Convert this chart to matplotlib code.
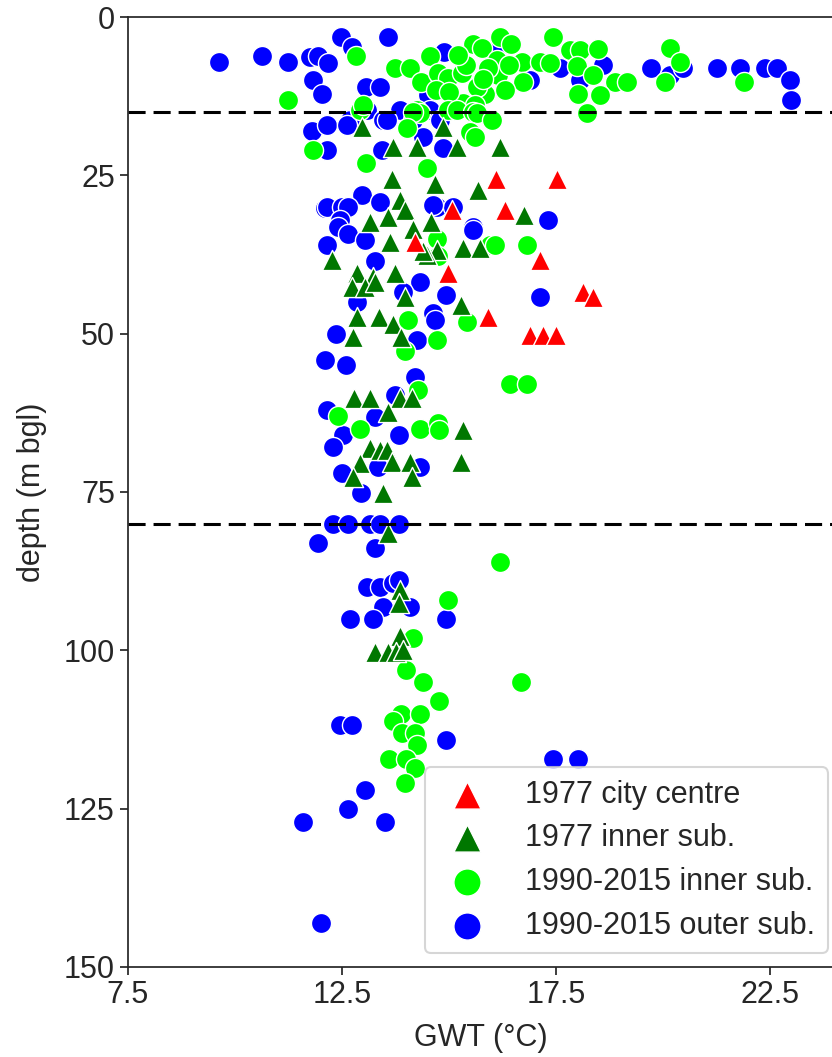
import matplotlib
matplotlib.use("Agg")
import matplotlib.pyplot as plt

plt.rcParams['font.family'] = ['Liberation Sans', 'DejaVu Sans']

# groundwater temperature (GWT, degC) and depth (m bgl) per data set
outer_gwt = [9.63, 10.64, 11.25, 11.75, 11.95, 12.18, 11.83, 12.03, 12.47, 12.74, 13.58, 13.06, 13.39,
             14.89, 14.52, 16.07, 16.89, 17.59, 18.06, 18.6, 19.71, 20.16, 20.47, 21.25, 21.8, 22.38,
             22.66, 22.97, 22.99,
             12.69, 13.08, 13.46, 13.86, 14.16, 14.56, 14.79,
             11.79, 12.14, 12.61, 12.14, 13.54, 14.4, 13.43, 14.86, 12.96, 12.1, 12.14, 12.49, 12.65,
             13.39, 12.45, 14.71, 15.1, 15.56, 12.41, 12.65, 12.14, 13.04, 14.63, 15.57, 17.32, 13.27,
             14.32, 14.94, 17.13, 12.84, 14.63, 14.67, 13.93, 12.37, 14.24, 12.1, 12.59, 14.2,
             13.74, 12.14, 13.27, 12.53, 13.82, 12.3, 12.49, 14.32, 13.35, 12.94,
             12.3, 12.65, 13.15, 13.39, 13.84, 11.95, 13.27,
             13.09, 13.39, 13.7, 13.82, 13.46, 14.09, 12.69, 13.23, 14.93,
             12.45, 12.73, 14.93, 17.44, 18.02, 13.04, 12.63, 11.6, 13.5, 12.01]
outer_depth = [7.1, 6.2, 7.1, 6.3, 6.2, 7.2, 10.0, 12.1, 3.1, 4.7, 3.1, 11.1, 11.1,
               5.6, 12.3, 5.2, 10.0, 8.1, 10.0, 7.6, 8.1, 9.2, 8.1, 8.1, 8.1, 8.1,
               8.1, 10.0, 13.1,
               16.3, 14.7, 16.3, 14.7, 16.3, 14.7, 16.3,
               18.0, 17.1, 17.1, 21.0, 16.3, 18.9, 21.0, 20.7, 28.1, 30.2, 30.0, 30.0, 30.0,
               29.2, 32.0, 30.0, 30.0, 33.1, 33.1, 34.2, 36.0, 35.2, 29.7, 33.6, 32.0, 38.6,
               41.8, 43.9, 44.2, 45.0, 46.8, 47.8, 43.4, 50.0, 51.0, 54.2, 55.0, 56.8,
               59.7, 62.1, 63.1, 66.0, 66.0, 67.9, 72.0, 71.0, 71.0, 75.1,
               80.0, 80.0, 80.0, 80.0, 80.0, 83.1, 83.9,
               90.0, 90.0, 89.4, 88.9, 93.1, 93.1, 95.1, 95.1, 95.1,
               111.8, 111.8, 114.1, 117.1, 117.1, 122.0, 125.0, 127.1, 127.1, 143.0]

inner_gwt = [12.82, 11.25, 13.74, 14.09, 14.56, 14.34, 14.75, 14.98, 15.3, 15.57, 15.76, 16.19, 16.44,
             16.11, 16.14, 15.84, 15.65, 15.1, 15.33, 15.6, 16.7, 16.72, 17.42, 17.83, 18.06, 18.47,
             17.13, 17.36, 17.98, 18.37, 18.88, 19.15, 18.02, 18.53, 18.22, 20.15, 20.4, 20.05, 21.88,
             15.4, 15.9, 16.4, 15.2, 14.7, 15.0, 16.3, 15.8,
             12.92, 12.99, 14.24, 14.32, 14.16, 14.98, 15.18, 15.57, 15.65, 16.0, 14.01, 15.49, 15.61,
             11.83, 13.07, 14.48,
             14.71, 15.96, 16.08, 16.81, 14.75, 14.05, 15.41, 14.71, 13.97, 16.42, 16.81, 14.28,
             12.41, 12.92, 14.32, 14.75, 14.77, 16.2,
             14.98, 14.15, 14.0, 14.4, 16.68, 14.77, 13.87, 14.32, 13.7, 13.89, 14.2, 14.25,
             13.6, 13.99, 14.2, 13.97]
inner_depth = [6.2, 13.1, 8.1, 8.1, 6.2, 10.2, 8.9, 9.7, 8.9, 4.2, 4.9, 3.1, 4.2,
               6.8, 9.2, 12.1, 11.0, 13.1, 13.6, 13.9, 7.1, 10.2, 3.1, 5.2, 5.2, 5.1,
               7.1, 7.3, 7.8, 9.2, 10.2, 10.2, 12.1, 12.3, 15.2, 4.9, 7.1, 10.2, 10.2,
               7.5, 8.0, 7.5, 6.0, 11.5, 11.8, 11.5, 9.8,
               14.7, 13.9, 14.7, 15.2, 15.0, 14.7, 14.7, 15.0, 15.2, 16.2, 17.6, 18.1, 19.0,
               21.0, 23.1, 23.9,
               35.0, 36.0, 36.0, 36.0, 37.8, 47.8, 48.1, 51.0, 52.8, 58.0, 58.0, 58.9,
               63.0, 65.1, 65.1, 64.1, 65.2, 86.0,
               92.1, 98.0, 103.1, 105.0, 105.0, 108.0, 110.0, 110.0, 111.1, 113.1, 113.1, 115.0,
               117.1, 117.1, 118.6, 121.0]

sub77_gwt = [12.96, 14.87, 13.68, 14.26, 15.18, 16.2, 13.67, 14.67, 15.68, 16.74, 13.86, 13.97, 13.58,
             13.15, 14.59, 14.16, 13.62, 14.71, 14.48, 14.4, 15.33, 15.72, 12.26, 12.84, 13.23, 13.74,
             12.73, 13.04, 13.27, 13.97, 15.29, 12.86, 13.36, 13.7, 12.76, 13.87,
             12.77, 13.15, 13.86, 14.13, 13.58, 15.33, 15.29, 13.15, 13.39, 13.54, 12.92, 13.66, 14.09,
             12.75, 14.13, 13.46, 13.58, 13.86, 13.82, 13.86, 13.27, 13.58, 13.77, 13.93]
sub77_depth = [17.3, 17.3, 20.5, 20.5, 20.5, 20.5, 25.5, 26.3, 27.3, 31.3, 28.9, 30.4, 31.5,
               32.3, 32.3, 33.4, 35.5, 36.8, 37.6, 37.0, 36.5, 36.5, 38.4, 40.5, 41.0, 40.5,
               42.6, 42.6, 41.8, 44.2, 45.5, 47.3, 47.3, 48.4, 50.5, 50.5,
               60.2, 60.2, 60.2, 60.2, 62.3, 65.2, 70.2, 68.1, 68.4, 68.4, 70.5, 70.2, 70.2,
               72.6, 72.6, 75.2, 81.5, 90.4, 92.6, 97.8, 100.2, 100.2, 100.2, 99.9]

city77_gwt = [16.09, 17.53, 15.08, 16.31, 14.2, 17.13, 14.98, 18.14, 18.37, 15.9, 16.89, 17.2, 17.51]
city77_depth = [25.5, 25.5, 30.5, 30.5, 35.5, 38.4, 40.5, 43.4, 44.2, 47.3, 50.2, 50.2, 50.2]

ink = '#262626'
fig = plt.figure(figsize=(8.32, 10.57), dpi=100)
ax = fig.add_axes([0.1538, 0.0852, 0.849, 0.8987])

size = 210
kw = dict(s=size, edgecolors='white', linewidths=1.0)
h_out = ax.scatter(outer_gwt, outer_depth, c='#0000ff', marker='o', label='1990-2015 outer sub.', **kw)
h_in = ax.scatter(inner_gwt, inner_depth, c='#00ff00', marker='o', label='1990-2015 inner sub.', **kw)
h_sub = ax.scatter(sub77_gwt, sub77_depth, c='#007700', marker='^', label='1977 inner sub.', **kw)
h_city = ax.scatter(city77_gwt, city77_depth, c='#ff0000', marker='^', label='1977 city centre', **kw)

# boundaries of the depth zones
for d in (15, 80):
    ax.axhline(d, color='black', lw=2.2, dashes=(5.6, 2.6), zorder=1.5)

ax.set_xlim(7.5, 24.0)
ax.set_ylim(150, 0)
ax.set_xticks([7.5, 12.5, 17.5, 22.5])
ax.set_yticks([0, 25, 50, 75, 100, 125, 150])
ax.set_xlabel('GWT (°C)', fontsize=22, color=ink, labelpad=9)
ax.set_ylabel('depth (m bgl)', fontsize=22, color=ink, labelpad=12)
ax.tick_params(axis='both', labelsize=22, colors=ink, length=6, width=1.25, direction='out')
for side in ax.spines.values():
    side.set_color(ink)
    side.set_linewidth(1.25)

leg = ax.legend(handles=[h_city, h_sub, h_in, h_out], loc='lower right', fontsize=22,
                markerscale=1.35, frameon=True, fancybox=True, borderaxespad=0.45,
                bbox_to_anchor=(1.01, 0.0), handletextpad=0.9, labelspacing=0.45)
leg.get_frame().set_edgecolor('#cccccc')
leg.get_frame().set_linewidth(1.5)
for t in leg.get_texts():
    t.set_color(ink)

fig.savefig('out.png', dpi=100)
